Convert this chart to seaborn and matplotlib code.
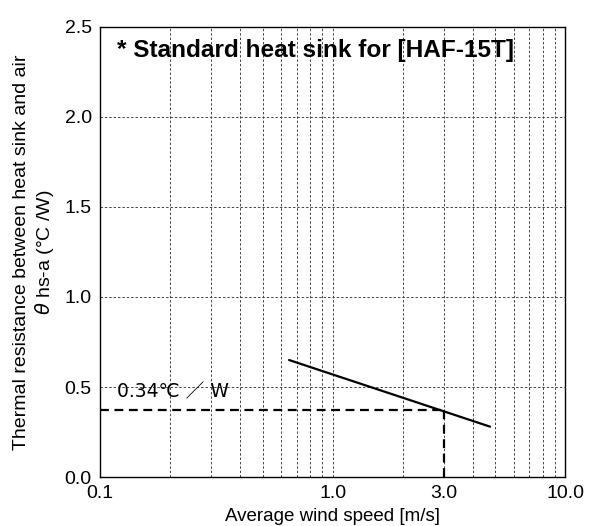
import numpy as np
import pandas as pd
import matplotlib
matplotlib.use("Agg")
import matplotlib.pyplot as plt
import seaborn as sns

# curve (log x)
wind_speed = [0.65, 4.75]
resistance = [0.65, 0.28]

# operating point marker lines
op_speed = 3.0
op_res = 0.37
op_label = "0.34℃ ／ W"

x_ticks = [0.1, 1.0, 3.0, 10.0]
x_tick_labels = ["0.1", "1.0", "3.0", "10.0"]
y_ticks = [0.0, 0.5, 1.0, 1.5, 2.0, 2.5]
minor_x = [0.2, 0.3, 0.4, 0.5, 0.6, 0.7, 0.8, 0.9, 2, 3, 4, 5, 6, 7, 8, 9]

sns.set_style("white")
plt.rcParams['font.family'] = ['Liberation Sans', 'DejaVu Sans', 'Noto Sans CJK JP']
plt.rcParams['text.color'] = 'black'
plt.rcParams['axes.labelcolor'] = 'black'

fig = plt.figure(figsize=(5.95, 5.26), dpi=100)
ax = fig.add_axes([0.168, 0.093, 0.782, 0.856])

df = pd.DataFrame({"speed": wind_speed, "res": resistance})
sns.lineplot(data=df, x="speed", y="res", ax=ax, color="black", linewidth=1.6)

ax.set_xscale("log")
ax.set_xlim(0.1, 10)
ax.set_ylim(0, 2.5)

# grid
grid_kw = dict(color="#444444", linewidth=0.7, linestyle=(0, (2.5, 2)), zorder=0)
for xv in minor_x + [1.0]:
    ax.axvline(xv, **grid_kw)
for yv in y_ticks[1:-1]:
    ax.axhline(yv, **grid_kw)

# operating point
ax.plot([0.1, op_speed], [op_res, op_res], color="black", linewidth=1.6,
        linestyle=(0, (4, 2.5)))
ax.plot([op_speed, op_speed], [0, op_res], color="black", linewidth=1.6,
        linestyle=(0, (4, 2.5)))
ax.text(0.118, op_res + 0.05, op_label, fontsize=13.5, va="bottom", ha="left",
        family=['DejaVu Sans', 'Noto Sans CJK JP'])

ax.text(0.118, 2.37, "* Standard heat sink for [HAF-15T]", fontsize=17.6,
        fontweight="bold", va="center", ha="left")

ax.set_xticks(x_ticks)
ax.set_xticklabels(x_tick_labels)
ax.xaxis.set_minor_locator(matplotlib.ticker.NullLocator())
ax.set_yticks(y_ticks)
ax.set_yticklabels([f"{v:.1f}" for v in y_ticks])
ax.tick_params(axis="both", length=0, labelsize=14, colors="black", pad=6)

ax.set_xlabel("Average wind speed [m/s]", fontsize=13.5, labelpad=4)
ax.set_ylabel("Thermal resistance between heat sink and air\n$\\theta$ hs-a (°C /W)",
              fontsize=14, labelpad=6)

for s in ax.spines.values():
    s.set_color("black")
    s.set_linewidth(1.0)

fig.savefig("out.png", dpi=100)
